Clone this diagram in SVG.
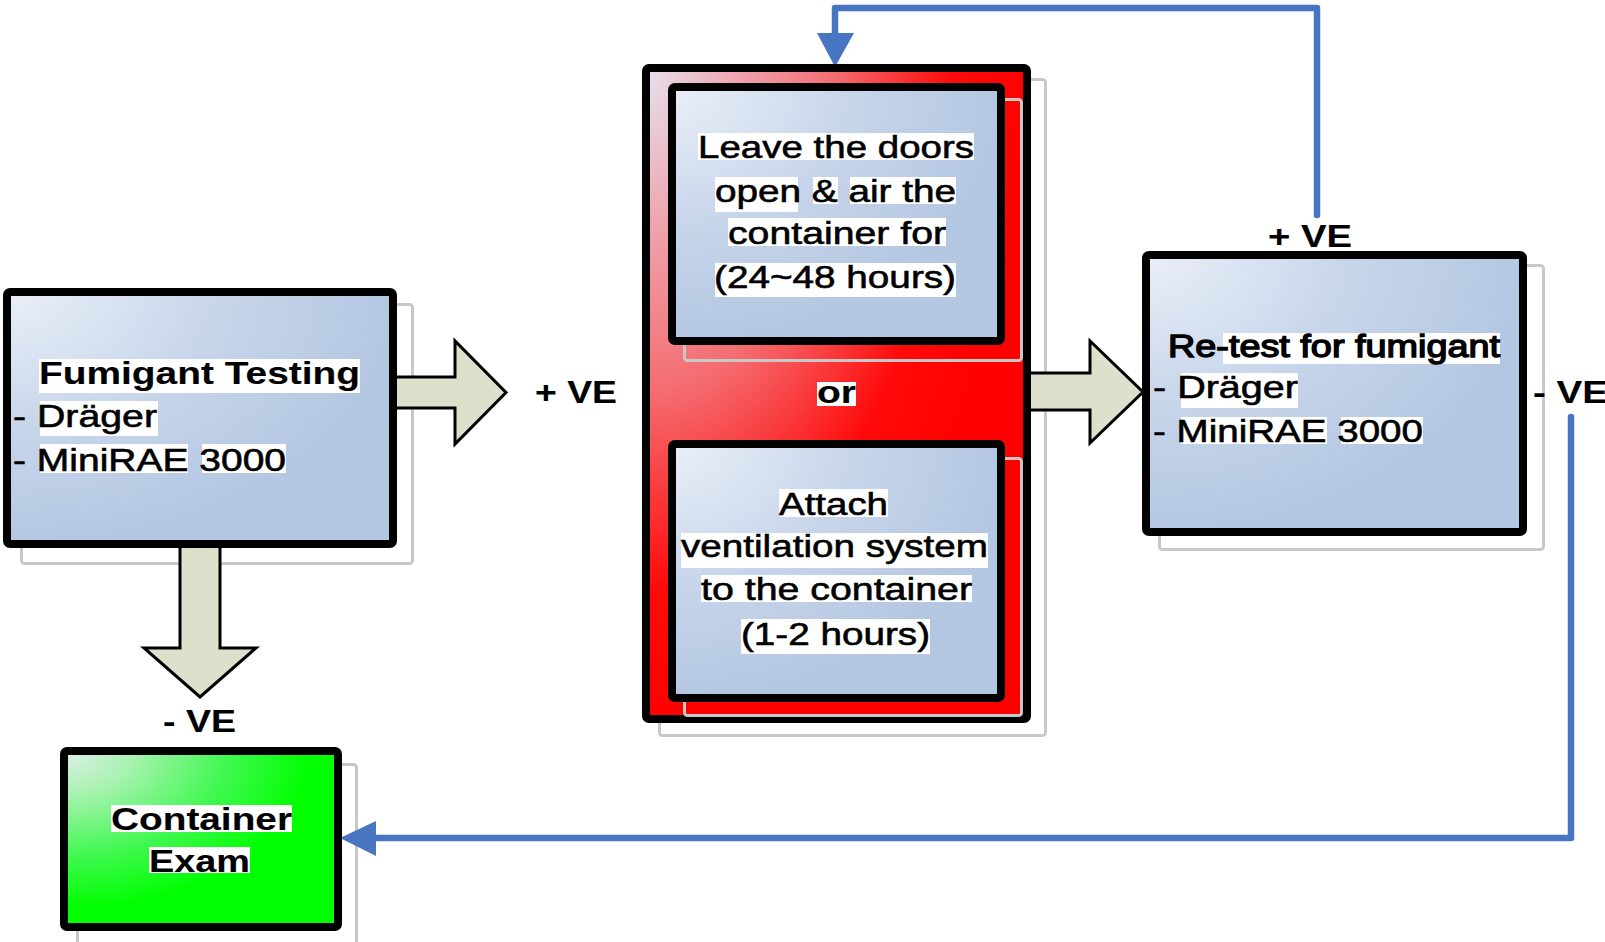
<svg xmlns="http://www.w3.org/2000/svg" width="1605" height="942" viewBox="0 0 1605 942">
  <defs>
    <radialGradient id="gBlue" cx="0" cy="0" r="1" fx="0" fy="0">
      <stop offset="0" stop-color="#eaeff8"/>
      <stop offset="0.55" stop-color="#c7d5ea"/>
      <stop offset="1" stop-color="#b4c7e2"/>
    </radialGradient>
    <radialGradient id="gRed" cx="0" cy="0" r="1" fx="0" fy="0">
      <stop offset="0" stop-color="#e6e2ee"/>
      <stop offset="0.25" stop-color="#eea2ac"/>
      <stop offset="0.5" stop-color="#f46c70"/>
      <stop offset="0.8" stop-color="#ff0a0a"/>
      <stop offset="1" stop-color="#ff0000"/>
    </radialGradient>
    <radialGradient id="gGreen" cx="0" cy="0" r="1" fx="0" fy="0">
      <stop offset="0" stop-color="#e0eeec"/>
      <stop offset="0.25" stop-color="#a8f2b0"/>
      <stop offset="0.6" stop-color="#40f850"/>
      <stop offset="0.9" stop-color="#00ff00"/>
      <stop offset="1" stop-color="#00ff00"/>
    </radialGradient>
  </defs>
  <style>
    .shadow { fill: none; stroke: #c8c8c8; stroke-width: 3; }
    .box { stroke: #000; stroke-width: 8; stroke-linejoin: round; }
    .blue { fill: url(#gBlue); }
    .red { fill: url(#gRed); }
    .green { fill: url(#gGreen); }
    .hl { fill: #fff; }
    .t { font-family: "Liberation Sans", Arial, sans-serif; font-size: 32px; fill: #000; stroke: #000; stroke-width: 0.6; }
    .b { font-weight: bold; stroke-width: 0.1; }
    .sb { stroke-width: 1.4; }
    .block { fill: #dde0cb; stroke: #000; stroke-width: 3; stroke-linejoin: miter; }
    .link { fill: none; stroke: #4775c1; stroke-width: 6.5; stroke-linejoin: round; stroke-linecap: round; }
    .head { fill: #4775c1; }
  </style>

  <rect width="1605" height="942" fill="#fff"/>

  <!-- drop-shadow outlines -->
  <g id="shadows">
    <rect class="shadow" x="21.5" y="304.5" width="391" height="259" rx="3"/>
    <rect class="shadow" x="659.5" y="79.5" width="386" height="656" rx="3"/>
    <rect class="shadow" x="1159.5" y="265.5" width="384" height="284" rx="3"/>
    <rect class="shadow" x="77.5" y="764.5" width="279" height="181" rx="3"/>
  </g>

  <!-- block arrows and blue feedback lines -->
  <g id="connectors">
    <polygon class="block" points="390,377 455,377 455,341 506,392.5 455,444 455,408 390,408"/>
    <polygon class="block" points="1025,373 1090,373 1090,341 1143,392 1090,443 1090,410 1025,410"/>
    <polygon class="block" points="180,540 220,540 220,648 256,648 200,697 144,648 180,648"/>

    <path class="link" d="M1317,215 V8 H835 V36"/>
    <polygon class="head" points="817,33 854,33 835,67"/>

    <path class="link" d="M1571,417 V838 H370"/>
    <polygon class="head" points="376,821 376,856 340,838"/>
  </g>

  <g id="fumigant-testing">
    <rect class="box blue" x="7" y="292" width="386" height="252" rx="3"/>
    <rect class="hl" x="39" y="359" width="321" height="34"/>
    <rect class="hl" x="40" y="401" width="118" height="35"/>
    <rect class="hl" x="40" y="444" width="148" height="29"/>
    <rect class="hl" x="202" y="444" width="84" height="29"/>
    <text class="t b" x="39" y="384" textLength="321" lengthAdjust="spacingAndGlyphs">Fumigant Testing</text>
    <text class="t" x="13" y="427" textLength="144" lengthAdjust="spacingAndGlyphs">- Dräger</text>
    <text class="t" x="13" y="471" textLength="273" lengthAdjust="spacingAndGlyphs">- MiniRAE 3000</text>
  </g>

  <g id="label-pos-left">
    <text class="t b" x="535" y="403" textLength="82" lengthAdjust="spacingAndGlyphs">+ VE</text>
  </g>

  <g id="ventilation-options">
    <rect class="box red" x="646" y="68" width="381" height="651" rx="3"/>
    <rect class="shadow" x="684.5" y="99.5" width="337" height="261" rx="3"/>
    <rect class="shadow" x="684.5" y="458.5" width="337" height="257" rx="3"/>
    <rect class="hl" x="817" y="382" width="39" height="24"/>
    <text class="t b" x="817" y="403" textLength="39" lengthAdjust="spacingAndGlyphs">or</text>
  </g>

  <g id="air-doors">
    <rect class="box blue" x="672" y="87" width="329" height="254" rx="3"/>
    <rect class="hl" x="698" y="133" width="276" height="27"/>
    <rect class="hl" x="715" y="177" width="83" height="35"/>
    <rect class="hl" x="813" y="177" width="25" height="27"/>
    <rect class="hl" x="850" y="177" width="106" height="27"/>
    <rect class="hl" x="728" y="218" width="218" height="28"/>
    <rect class="hl" x="715" y="263" width="241" height="34"/>
    <text class="t" x="698" y="158" textLength="276" lengthAdjust="spacingAndGlyphs">Leave the doors</text>
    <text class="t" x="715" y="202" textLength="241" lengthAdjust="spacingAndGlyphs">open &amp; air the</text>
    <text class="t" x="728" y="244" textLength="218" lengthAdjust="spacingAndGlyphs">container for</text>
    <text class="t" x="714" y="288" textLength="242" lengthAdjust="spacingAndGlyphs">(24~48 hours)</text>
  </g>

  <g id="ventilation-system">
    <rect class="box blue" x="672" y="444" width="329" height="254" rx="3"/>
    <rect class="hl" x="779" y="489" width="109" height="28"/>
    <rect class="hl" x="681" y="533" width="307" height="35"/>
    <rect class="hl" x="701" y="575" width="271" height="27"/>
    <rect class="hl" x="741" y="619" width="189" height="35"/>
    <text class="t" x="779" y="515" textLength="109" lengthAdjust="spacingAndGlyphs">Attach</text>
    <text class="t" x="681" y="557" textLength="307" lengthAdjust="spacingAndGlyphs">ventilation system</text>
    <text class="t" x="701" y="600" textLength="271" lengthAdjust="spacingAndGlyphs">to the container</text>
    <text class="t" x="741" y="645" textLength="189" lengthAdjust="spacingAndGlyphs">(1-2 hours)</text>
  </g>

  <g id="retest">
    <rect class="box blue" x="1146" y="255" width="377" height="277" rx="3"/>
    <rect class="hl" x="1223" y="333" width="277" height="31"/>
    <rect class="hl" x="1181" y="373" width="117" height="35"/>
    <rect class="hl" x="1181" y="417" width="146" height="27"/>
    <rect class="hl" x="1341" y="417" width="82" height="27"/>
    <text class="t sb" x="1168" y="357" textLength="332" lengthAdjust="spacingAndGlyphs">Re-test for fumigant</text>
    <text class="t" x="1153" y="398" textLength="145" lengthAdjust="spacingAndGlyphs">- Dräger</text>
    <text class="t" x="1153" y="442" textLength="270" lengthAdjust="spacingAndGlyphs">- MiniRAE 3000</text>
  </g>

  <g id="label-pos-top">
    <text class="t b" x="1268" y="247" textLength="84" lengthAdjust="spacingAndGlyphs">+ VE</text>
  </g>

  <g id="label-neg-right">
    <text class="t b" x="1533" y="403" textLength="75" lengthAdjust="spacingAndGlyphs">- VE</text>
  </g>

  <g id="label-neg-bottom">
    <text class="t b" x="163" y="732" textLength="73" lengthAdjust="spacingAndGlyphs">- VE</text>
  </g>

  <g id="container-exam">
    <rect class="box green" x="64" y="751" width="274" height="176" rx="3"/>
    <rect class="hl" x="111" y="805" width="181" height="27"/>
    <rect class="hl" x="149" y="847" width="101" height="26"/>
    <text class="t b" x="111" y="830" textLength="181" lengthAdjust="spacingAndGlyphs">Container</text>
    <text class="t b" x="149" y="872" textLength="101" lengthAdjust="spacingAndGlyphs">Exam</text>
  </g>
</svg>
